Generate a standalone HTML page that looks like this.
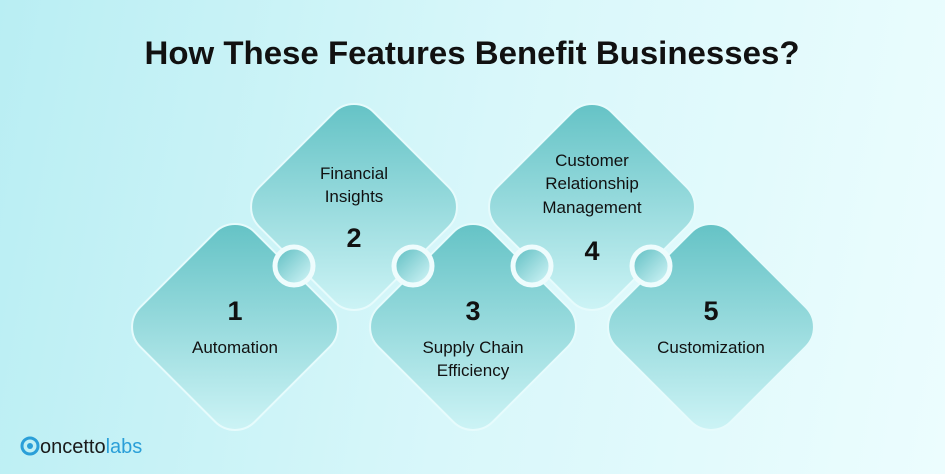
<!DOCTYPE html>
<html><head><style>
body{margin:0;width:945px;height:474px;overflow:hidden;background:linear-gradient(100deg,#b9eef3 0%,#d8f7fa 50%,#ecfdfe 100%);font-family:"Liberation Sans",sans-serif}
svg{position:absolute;left:0;top:0}
</style></head><body>
<svg width="945" height="474" viewBox="0 0 945 474">
<defs>
<linearGradient id="g" x1="0" y1="0" x2="1" y2="1"><stop offset="0" stop-color="#5fc0c3"/><stop offset="1" stop-color="#d2f6f8"/></linearGradient>
<linearGradient id="c" x1="0" y1="0" x2="1" y2="1"><stop offset="0" stop-color="#5bbcc0"/><stop offset="1" stop-color="#d8f8fa"/></linearGradient>
<g id="d"><rect x="-81" y="-81" width="162" height="162" rx="28" fill="url(#g)" stroke="#e6fbfc" stroke-width="2" transform="rotate(45)"/></g>
</defs>
<use href="#d" x="235" y="327"/>
<use href="#d" x="354" y="207"/>
<use href="#d" x="473" y="327"/>
<use href="#d" x="592" y="207"/>
<use href="#d" x="711" y="327"/>
<g stroke="#eefcfd" stroke-width="5" fill="url(#c)">
<circle cx="294" cy="266" r="19"/><circle cx="413" cy="266" r="19"/><circle cx="532" cy="266" r="19"/><circle cx="651" cy="266" r="19"/>
</g>
<g font-family="Liberation Sans, sans-serif" fill="#111" text-anchor="middle">
<text x="472" y="64" font-size="32.5" font-weight="bold" textLength="655" lengthAdjust="spacingAndGlyphs">How These Features Benefit Businesses?</text>
<g font-size="17">
<text x="354" y="179">Financial</text><text x="354" y="202">Insights</text>
<text x="235" y="353">Automation</text>
<text x="473" y="353">Supply Chain</text><text x="473" y="376">Efficiency</text>
<text x="592" y="166">Customer</text><text x="592" y="189">Relationship</text><text x="592" y="213">Management</text>
<text x="711" y="353">Customization</text>
</g>
<g font-size="27" font-weight="bold">
<text x="354" y="247">2</text><text x="235" y="320">1</text><text x="473" y="320">3</text><text x="592" y="260">4</text><text x="711" y="320">5</text>
</g>
</g>
<circle cx="30" cy="446" r="8" fill="none" stroke="#2a9fd8" stroke-width="3"/>
<circle cx="30" cy="446" r="3" fill="#2a9fd8"/>
<text x="40" y="453" font-size="20" fill="#1a1a1a" font-family="Liberation Sans, sans-serif">oncetto<tspan fill="#2a9fd8">labs</tspan></text>
</svg>
</body></html>
